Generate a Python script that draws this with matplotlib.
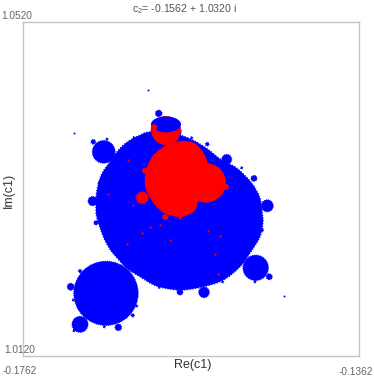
import matplotlib
matplotlib.use("Agg")
import matplotlib.pyplot as plt
from matplotlib.patches import Circle, Ellipse, PathPatch
from matplotlib.path import Path

plt.rcParams['font.family'] = ['Liberation Sans', 'DejaVu Sans']
plt.rcParams['mathtext.fontset'] = 'custom'
plt.rcParams['mathtext.rm'] = 'Liberation Sans'
plt.rcParams['mathtext.default'] = 'regular'

re_limits = [-0.1762, -0.1362]
im_limits = [1.0120, 1.0520]
re_labels = ["-0.1762", "-0.1362"]
im_labels = ["1.0120", "1.0520"]
title_text = "c$_2$= -0.1562 + 1.0320 i"

# outline of the large blue body
blue_re = [-0.16751, -0.16743, -0.16703, -0.16656, -0.16584, -0.16513, -0.16426, -0.16334,
           -0.16227, -0.16132, -0.15929, -0.15751, -0.15596, -0.15433, -0.15254, -0.15076,
           -0.14897, -0.14799, -0.14769, -0.14763, -0.14799, -0.14918, -0.15037, -0.15235,
           -0.15474, -0.15751, -0.16028, -0.16227, -0.16385, -0.16477, -0.16578, -0.16664,
           -0.16743]
blue_im = [1.03008, 1.03166, 1.03330, 1.03426, 1.03525, 1.03629, 1.03724, 1.03790,
           1.03844, 1.03880, 1.03880, 1.03844, 1.03784, 1.03685, 1.03545, 1.03450,
           1.03270, 1.03091, 1.02888, 1.02804, 1.02629, 1.02434, 1.02270, 1.02112,
           1.02032, 1.01992, 1.02040, 1.02151, 1.02251, 1.02350, 1.02470, 1.02629,
           1.02868]

# blue satellite discs
disc_re = [-0.16632, -0.14850, -0.16941, -0.17052, -0.16485, -0.15465, -0.15751, -0.14688,
           -0.16314, -0.16941, -0.16659, -0.16004, -0.14712, -0.16790, -0.15195, -0.14870,
           -0.16751, -0.14778, -0.15426, -0.15612, -0.15016, -0.16299, -0.16620, -0.16783,
           -0.16715, -0.17021, -0.16266, -0.16652, -0.17013, -0.15997, -0.15243, -0.14858,
           -0.15918]
disc_im = [1.01953, 1.02258, 1.01582, 1.02032, 1.01546, 1.01965, 1.01968, 1.02151,
           1.01690, 1.02219, 1.03644, 1.04103, 1.02999, 1.03055, 1.03554, 1.03327,
           1.02796, 1.02709, 1.03736, 1.03812, 1.03453, 1.03814, 1.03796, 1.03764,
           1.03274, 1.01873, 1.01801, 1.01554, 1.01506, 1.02024, 1.02091, 1.02091,
           1.03883]
disc_r = [0.00384, 0.00152, 0.00096, 0.00042, 0.00040, 0.00064, 0.00036, 0.00036,
          0.00020, 0.00020, 0.00136, 0.00040, 0.00072, 0.00056, 0.00060, 0.00036,
          0.00026, 0.00022, 0.00022, 0.00014, 0.00014, 0.00014, 0.00014, 0.00028,
          0.00014, 0.00014, 0.00014, 0.00014, 0.00014, 0.00014, 0.00014, 0.00014,
          0.00180]

# top bulb: red disc with a blue cap over its upper part
bulb_re, bulb_im, bulb_r = -0.15918, 1.03898, 0.00174
cap_re, cap_im, cap_w, cap_h = -0.15918, 1.03972, 0.00358, 0.00190

# outline of the main red body, the right lobe is a disc
red_re = [-0.16168, -0.16156, -0.16108, -0.16049, -0.15909, -0.15790, -0.15691, -0.15593,
          -0.15513, -0.15453, -0.15433, -0.15500, -0.15540, -0.15572, -0.15652, -0.15751,
          -0.15909, -0.16028, -0.16116, -0.16159]
red_im = [1.03306, 1.03426, 1.03537, 1.03625, 1.03724, 1.03764, 1.03772, 1.03752,
          1.03685, 1.03593, 1.03473, 1.03260, 1.03047, 1.02948, 1.02892, 1.02868,
          1.02900, 1.02987, 1.03115, 1.03207]

red_disc_re = [-0.15441, -0.16200, -0.15926, -0.15203, -0.16168, -0.15747, -0.16060, -0.15751]
red_disc_im = [1.03274, 1.03095, 1.02864, 1.03226, 1.03417, 1.02852, 1.03936, 1.03895]
red_disc_r = [0.00234, 0.00072, 0.00034, 0.00032, 0.00032, 0.00016, 0.00036, 0.00016]

# isolated points
speck_blue_re = [-0.17013, -0.16132, -0.14513]
speck_blue_im = [1.03868, 1.04381, 1.01924]
speck_red_re = [-0.15334, -0.16385, -0.15414, -0.16207, -0.15870, -0.15275, -0.15295,
                -0.16108, -0.15989, -0.16605, -0.16366, -0.16307]
speck_red_im = [1.02419, 1.02538, 1.02701, 1.02669, 1.02589, 1.02641, 1.02183,
                1.02748, 1.02769, 1.03139, 1.03545, 1.03008]

BLUE = "#0000ff"
RED = "#ff0000"
GREY = "#c4c4c4"
FUZZ = (0, (0.8, 1.2))


def smooth_outline(xs, ys):
    # closed catmull-rom curve through the outline points
    n = len(xs)
    verts = [(xs[0], ys[0])]
    codes = [Path.MOVETO]
    for i in range(n):
        p0 = (xs[i - 1], ys[i - 1])
        p1 = (xs[i], ys[i])
        p2 = (xs[(i + 1) % n], ys[(i + 1) % n])
        p3 = (xs[(i + 2) % n], ys[(i + 2) % n])
        verts.append((p1[0] + (p2[0] - p0[0]) / 6, p1[1] + (p2[1] - p0[1]) / 6))
        verts.append((p2[0] - (p3[0] - p1[0]) / 6, p2[1] - (p3[1] - p1[1]) / 6))
        verts.append(p2)
        codes += [Path.CURVE4] * 3
    return Path(verts, codes)


fig = plt.figure(figsize=(3.74, 3.87), dpi=100)
ax = fig.add_axes([23 / 374, (387 - 356.3) / 387, 336 / 374, 334.6 / 387])

ax.add_patch(PathPatch(smooth_outline(blue_re, blue_im), facecolor=BLUE, edgecolor=BLUE,
                       lw=1.0, ls=FUZZ, zorder=2))
for x, y, r in zip(disc_re, disc_im, disc_r):
    ax.add_patch(Circle((x, y), r, facecolor=BLUE, edgecolor=BLUE, lw=0.7, ls=FUZZ, zorder=2))

ax.add_patch(Circle((bulb_re, bulb_im), bulb_r, color=RED, lw=0, zorder=3))
ax.add_patch(Ellipse((cap_re, cap_im), cap_w, cap_h, color=BLUE, lw=0, zorder=4))

ax.add_patch(PathPatch(smooth_outline(red_re, red_im), facecolor=RED, edgecolor=RED,
                       lw=0.7, ls=FUZZ, zorder=5))
for x, y, r in zip(red_disc_re, red_disc_im, red_disc_r):
    ax.add_patch(Circle((x, y), r, facecolor=RED, edgecolor=RED, lw=0.6, ls=FUZZ, zorder=5))

ax.scatter(speck_blue_re, speck_blue_im, s=2, color=BLUE, lw=0, zorder=2)
ax.scatter(speck_red_re, speck_red_im, s=2.5, color=RED, lw=0, zorder=5)

ax.set_xlim(re_limits)
ax.set_ylim(im_limits)
ax.set_xticks([])
ax.set_yticks([])
for s in ax.spines.values():
    s.set_color(GREY)
    s.set_linewidth(1)

# corner labels sit around and over the frame, as in the original
fig.text(20 / 374, 1 - 371 / 387, re_labels[0], ha="center", va="center", fontsize=7.3, color="#666666")
fig.text(356 / 374, 1 - 372 / 387, re_labels[1], ha="center", va="center", fontsize=7.3, color="#666666")
fig.text(20 / 374, 1 - 350 / 387, im_labels[0], ha="center", va="center", fontsize=7.3, color="#666666")
fig.text(17 / 374, 1 - 16 / 387, im_labels[1], ha="center", va="center", fontsize=7.3, color="#666666")

fig.text(192.5 / 374, 1 - 365 / 387, "Re(c1)", ha="center", va="center", fontsize=9, color="#333333")
fig.text(9 / 374, 1 - 190 / 387, "Im(c1)", ha="center", va="center", rotation=90, fontsize=9, color="#333333")
fig.text(185 / 374, 1 - 9 / 387, title_text, ha="center", va="center", fontsize=7.6, color="#555555")

fig.savefig("out.png", dpi=100)
